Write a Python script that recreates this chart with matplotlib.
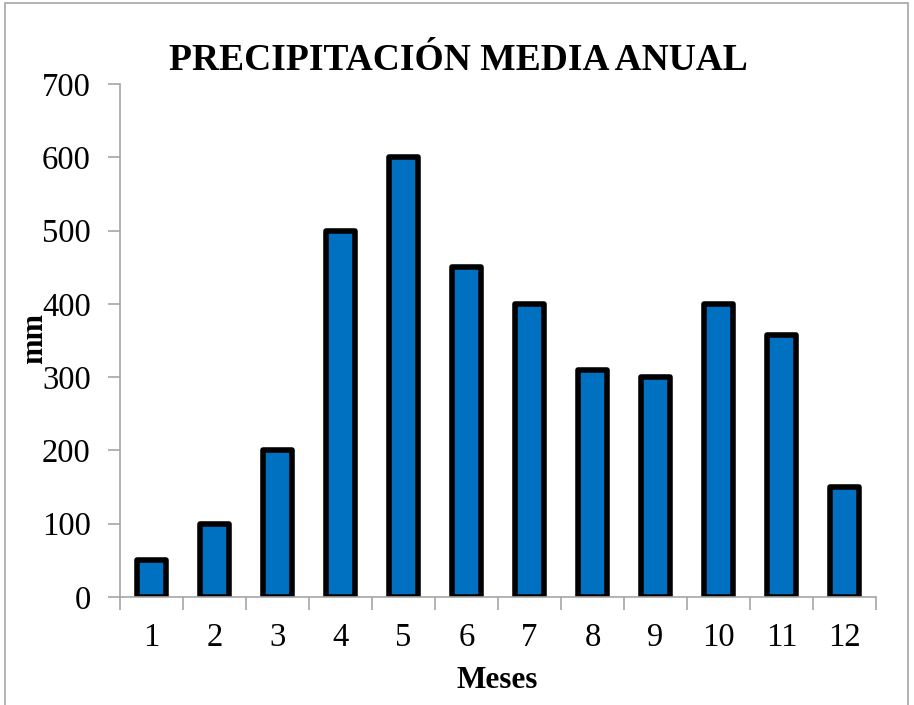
import matplotlib.pyplot as plt
from matplotlib.patches import Rectangle

meses = [str(m) for m in range(1, 13)]
precip = [50, 100, 200, 500, 600, 450, 400, 310, 300, 400, 358, 150]
y_ticks = [0, 100, 200, 300, 400, 500, 600, 700]

plt.rcParams['font.family'] = ['Liberation Serif', 'DejaVu Serif']

W, H = 914, 705
fig = plt.figure(figsize=(W / 100, H / 100), dpi=100)
ax = fig.add_axes([120 / W, 1 - 597 / H, 756 / W, 513 / H])

# light gray frame around the chart area
fig.patches.append(Rectangle((5 / W, -0.05), 903 / W, 1.05 - 3 / H,
                             transform=fig.transFigure, fill=False,
                             edgecolor='#a6a6a6', linewidth=1.2))

x = range(len(meses))
ax.bar(x, precip, width=0.46, color='#0070c0', edgecolor='black',
       linewidth=4.0, joinstyle='round')

ax.set_xlim(-0.5, len(meses) - 0.5)
ax.set_ylim(0, 700)
ax.set_yticks(y_ticks)
ax.set_xticks([i - 0.5 for i in range(len(meses) + 1)])
ax.set_xticklabels([])
ax.set_xticks(list(x), minor=True)
ax.set_xticklabels(meses, minor=True)

for side in ['top', 'right']:
    ax.spines[side].set_visible(False)
for side in ['left', 'bottom']:
    ax.spines[side].set_color('#a6a6a6')
    ax.spines[side].set_linewidth(1.2)

ax.tick_params(axis='y', which='major', direction='out', length=9, width=1.2,
               color='#a6a6a6', labelsize=23.5, pad=12)
ax.tick_params(axis='x', which='major', direction='out', length=9, width=1.2,
               color='#a6a6a6')
ax.tick_params(axis='x', which='minor', length=0, labelsize=23.5, pad=18)

fig.text(497 / W, 1 - 688 / H, 'Meses', ha='center', va='baseline',
         fontsize=22.5, fontweight='bold')
fig.text(35 / W, 1 - 339 / H, 'mm', ha='center', va='center', rotation=90,
         fontsize=22, fontweight='bold')
fig.text(458 / W, 1 - 70 / H, 'PRECIPITACIÓN MEDIA ANUAL', ha='center',
         va='baseline', fontsize=27, fontweight='bold')

fig.savefig('out.png', dpi=100)
